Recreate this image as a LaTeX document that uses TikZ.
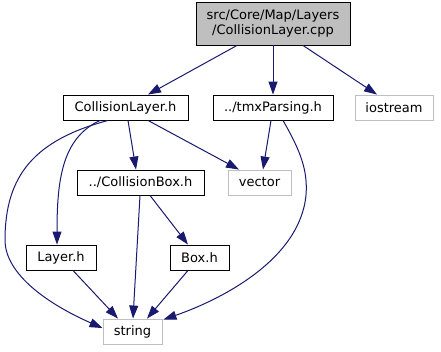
\documentclass[tikz,border=0pt]{standalone}
\usepackage{fontspec}
\setmainfont{DejaVu Sans}
\usetikzlibrary{arrows.meta}
\definecolor{edgeblue}{HTML}{191970}
\definecolor{rootfill}{HTML}{BFBFBF}
\definecolor{sysgray}{HTML}{BFBFBF}
\tikzset{
  filebox/.style={draw=black, line width=0.9pt, minimum height=25pt, inner sep=0pt,
    font=\fontsize{13}{15}\selectfont, align=center},
  sysbox/.style={filebox, draw=sysgray},
  rootbox/.style={filebox, fill=rootfill, minimum height=43pt},
  dep/.style={draw=edgeblue, line width=1pt,
    -{Triangle[length=13pt,width=9pt]}},
}
\begin{document}
\begin{tikzpicture}[x=1pt,y=-1pt]
  \useasboundingbox (0,0) rectangle (441,351);

  % files
  \node[rootbox, minimum width=154pt] (root) at (273,23.5)
    {src/Core/Map/Layers\\/CollisionLayer.cpp};
  \node[filebox, minimum width=125pt] (cl)   at (125.5,107.5) {CollisionLayer.h};
  \node[filebox, minimum width=120pt] (tmx)  at (273,107.5)   {../tmxParsing.h};
  \node[sysbox,  minimum width=78pt]  (ios)  at (394,107.5)   {iostream};
  \node[filebox, minimum width=127pt] (cbox) at (140.5,182.5) {../CollisionBox.h};
  \node[sysbox,  minimum width=63pt]  (vec)  at (259.5,182.5) {vector};
  \node[filebox, minimum width=70pt]  (lay)  at (61,257.5)    {Layer.h};
  \node[filebox, minimum width=59pt]  (box)  at (199.5,257.5) {Box.h};
  \node[sysbox,  minimum width=59pt]  (str)  at (132.5,331.5) {string};

  % includes
  \draw[dep] ([xshift=-36pt]root.south) -- ([xshift=22.5pt]cl.north);
  \draw[dep] (root.south) -- (tmx.north);
  \draw[dep] ([xshift=30pt]root.south) -- ([xshift=-17pt]ios.north);

  \draw[dep] ([xshift=2.5pt]cl.south) -- ([xshift=-4.5pt]cbox.north);
  \draw[dep] ([xshift=22.5pt]cl.south) -- ([xshift=-20.5pt]vec.north);
  \draw[dep] ([xshift=-25.5pt]cl.south)
    .. controls (62,138) and (57,180) .. ([xshift=-4pt]lay.north);
  \draw[dep] ([xshift=-17.5pt]cl.south)
    .. controls (35,140) and (5,175) .. (5,240)
    .. controls (5,275) and (50,305) .. ([yshift=-9.5pt]str.north west);

  \draw[dep] ([xshift=-2pt]tmx.south) -- ([xshift=3.5pt]vec.north);
  \draw[dep] ([xshift=10pt]tmx.south)
    .. controls (300,150) and (308,170) .. (306,195)
    .. controls (300,260) and (220,300) .. ([xshift=1pt,yshift=-1pt]str.north east);

  \draw[dep] ([xshift=-0.5pt]cbox.south) -- ([xshift=0.5pt]str.north);
  \draw[dep] ([xshift=9.5pt]cbox.south) -- ([xshift=-11.5pt]box.north);

  \draw[dep] ([xshift=12pt]lay.south) -- ([xshift=-14.5pt]str.north);
  \draw[dep] ([xshift=-11.5pt]box.south) -- ([xshift=14.5pt]str.north);
\end{tikzpicture}
\end{document}
